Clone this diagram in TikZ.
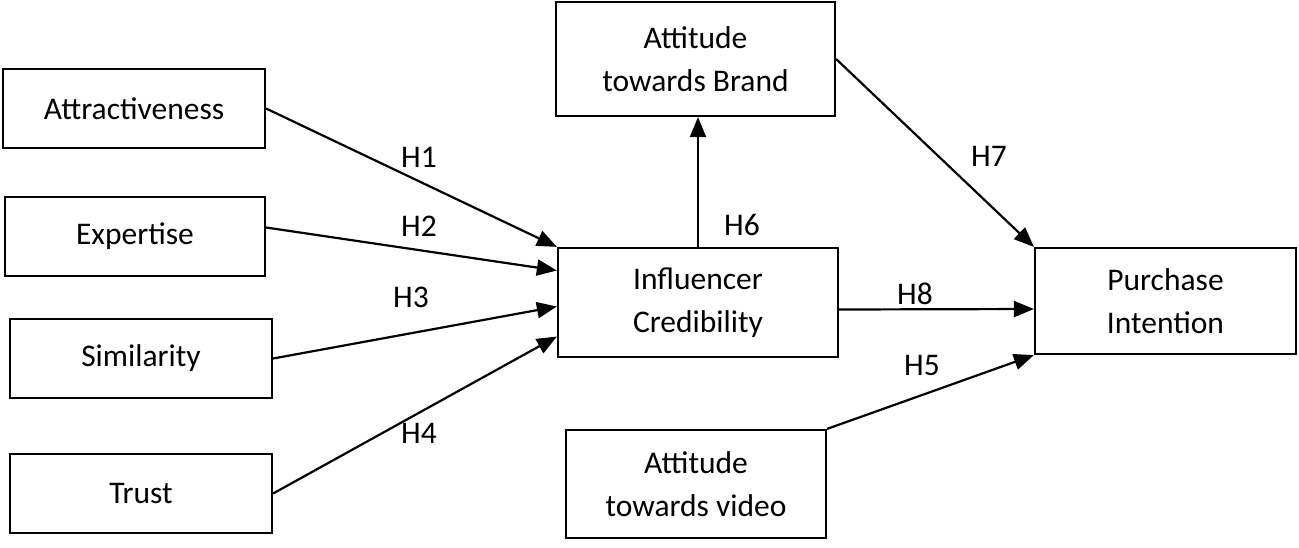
\documentclass[tikz,border=0pt]{standalone}
\usepackage{fontspec}
\setmainfont{Carlito}
\usetikzlibrary{arrows.meta}
\tikzset{
  box/.style={draw=black, line width=2.2pt, rectangle, inner sep=0pt, align=center,
    font=\fontsize{31.5}{43}\selectfont},
  hlab/.style={font=\fontsize{31.5}{36}\selectfont, inner sep=0pt},
  conn/.style={draw=black, line width=2.2pt, -{Triangle[length=20pt,width=16pt]}}
}
\begin{document}
\begin{tikzpicture}[x=1pt,y=-1pt]
\useasboundingbox (0,0) rectangle (1299,547);
% boxes
\node[box, minimum width=262pt, minimum height=79pt] (attr) at (134,108.5) {Attractiveness};
\node[box, minimum width=260pt, minimum height=79pt] (expt) at (135,236.5) {Expertise};
\node[box, minimum width=262pt, minimum height=79pt] (simi) at (141,358.5) {Similarity};
\node[box, minimum width=262pt, minimum height=79pt] (trust) at (141,493.5) {Trust};
\node[box, minimum width=280pt, minimum height=109pt] (infl) at (698,302.5) {Influencer\\Credibility};
\node[box, minimum width=279pt, minimum height=114pt] (brand) at (695.5,59) {Attitude\\towards Brand};
\node[box, minimum width=261pt, minimum height=106pt] (purch) at (1165.5,301) {Purchase\\Intention};
\node[box, minimum width=260pt, minimum height=108pt] (video) at (696,484) {Attitude\\towards video};
% connectors
\draw[conn] (attr.east) -- (infl.north west);
\draw[conn] ([yshift=9pt]expt.east) -- ([yshift=32pt]infl.west);
\draw[conn] (simi.east) -- ([yshift=-4pt]infl.west);
\draw[conn] (trust.east) -- ([yshift=-34pt]infl.west);
\draw[conn] (infl.north) -- (infl.north |- brand.south);
\draw[conn] (brand.east) -- (purch.north west);
\draw[conn] ([yshift=-7pt]infl.east) -- ([yshift=-8pt]purch.west);
\draw[conn] (video.north east) -- (purch.south west);
% labels
\node[hlab] (h1) at (419,157) {H1};
\node[hlab] (h2) at (419,226) {H2};
\node[hlab] (h3) at (411,297) {H3};
\node[hlab] (h4) at (419,433) {H4};
\node[hlab] (h5) at (922,365) {H5};
\node[hlab] (h6) at (742,225) {H6};
\node[hlab] (h7) at (989,156) {H7};
\node[hlab] (h8) at (915,294) {H8};
\end{tikzpicture}
\end{document}
